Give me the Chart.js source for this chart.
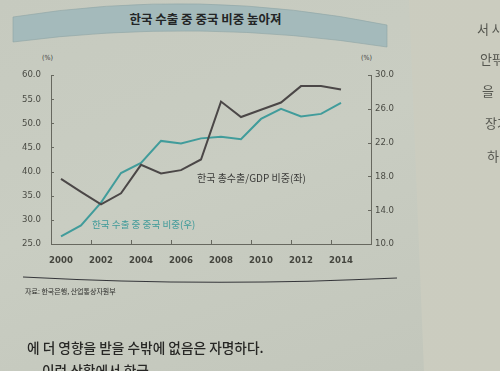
<!DOCTYPE html>
<html><head><meta charset="utf-8">
<script src="https://cdn.jsdelivr.net/npm/chart.js@4"></script>
<style>
html,body{margin:0;padding:0;}
body{width:500px;height:371px;overflow:hidden;position:relative;
  background:linear-gradient(160deg,#c6cabf 0%,#c9cdc2 45%,#c2c6bb 100%);
  font-family:"Noto Sans CJK KR","Noto Sans",sans-serif;}
#gutter{position:absolute;left:0;top:0;width:500px;height:371px;
  clip-path:polygon(409px 0,500px 0,500px 371px,424px 371px);
  background:linear-gradient(to right,#d9d7b2 0px,#d6d4b4 6px,#cfd0bf 16px,#cbcdc0 40px,#cbccbf 100%);}
svg.bg{position:absolute;left:0;top:0;}
.t{position:absolute;white-space:nowrap;}
#title{left:128px;top:9px;width:155px;text-align:center;font-size:12.5px;font-weight:bold;color:#232526;}
.unit{font-size:7px;color:#3c3c3a;top:54px;font-family:"DejaVu Sans Condensed",sans-serif;}
#lblB{left:197px;top:170px;font-size:10px;color:#3a3a38;}
#lblT{left:92px;top:217px;font-size:9.6px;color:#3f9a99;}
#src{left:25px;top:286px;font-size:7px;color:#2e2e2c;}
.body{font-size:13.7px;color:#272725;font-weight:500;}
.rp{font-size:13px;color:#55564f;}
#cw{position:absolute;left:0;top:0;width:500px;height:371px;}
</style></head>
<body>
<div id="gutter"></div>
<svg class="bg" width="500" height="371">
  <path d="M13,17 Q200,-13 387,25 L387,47 Q200,17.5 13,42 Z" fill="#a4babb" stroke="#8fa4a5" stroke-width="0.6"/>
  <path d="M23,277 Q210,287 397,278" fill="none" stroke="#35363a" stroke-width="1.2"/>
</svg>
<div class="t" id="title">한국 수출 중 중국 비중 높아져</div>
<div class="t unit" style="left:42px;">(%)</div>
<div class="t unit" style="left:361px;">(%)</div>
<div id="cw"><canvas id="c" width="500" height="371"></canvas></div>
<div class="t" id="lblB">한국 총수출/GDP 비중(좌)</div>
<div class="t" id="lblT">한국 수출 중 중국 비중(우)</div>
<div class="t" id="src">자료: 한국은행, 산업통상자원부</div>
<div class="t body" style="left:27px;top:337px;">에 더 영향을 받을 수밖에 없음은 자명하다.</div>
<div class="t body" style="left:42px;top:360px;">이런 상황에서 한국</div>
<div class="t rp" style="left:477px;top:19px;">서 사</div>
<div class="t rp" style="left:480px;top:49px;">안팎</div>
<div class="t rp" style="left:482px;top:81px;">을</div>
<div class="t rp" style="left:485px;top:113px;">장기</div>
<div class="t rp" style="left:487px;top:146px;">하</div>
<script>
// ---- data ----
const years = ['2000','2001','2002','2003','2004','2005','2006','2007','2008','2009','2010','2011','2012','2013','2014','2015'];
const exportToGdp = [38.5, 35.8, 33.2, 35.5, 41.4, 39.6, 40.3, 42.5, 54.5, 51.3, 52.8, 54.3, 57.7, 57.7, 57.0];
const chinaShare  = [10.9, 12.2, 14.9, 18.4, 19.6, 22.2, 21.9, 22.5, 22.7, 22.4, 24.8, 26.0, 25.1, 25.4, 26.7];
const leftTicks  = [25, 30, 35, 40, 45, 50, 55, 60];
const rightTicks = [10, 14, 18, 22, 26, 30];
const shownYears = ['2000','2002','2004','2006','2008','2010','2012','2014'];

const tickFont = {family:"'Liberation Sans Narrow','DejaVu Sans Condensed',sans-serif", size:9.5};
const axisColor = '#67685f';

const innerTicks = {
  id:'innerTicks',
  afterDraw(chart){
    const {ctx, chartArea:a, scales} = chart;
    ctx.save(); ctx.strokeStyle = axisColor; ctx.lineWidth = 1;
    ctx.beginPath();
    scales.y.ticks.forEach(t=>{const y=Math.round(scales.y.getPixelForValue(t.value))+0.5; ctx.moveTo(a.left,y); ctx.lineTo(a.left+3,y);});
    scales.y1.ticks.forEach(t=>{const y=Math.round(scales.y1.getPixelForValue(t.value))+0.5; ctx.moveTo(a.right,y); ctx.lineTo(a.right-3,y);});
    const x = scales.x; const w = x.getPixelForValue(1) - x.getPixelForValue(0);
    for (let i = 2; i < years.length; i += 2) {
      const px = Math.round(x.getPixelForValue(i) - w/2) + 0.5;
      ctx.moveTo(px, a.bottom); ctx.lineTo(px, a.bottom - 4);
    }
    ctx.stroke(); ctx.restore();
  }
};

new Chart(document.getElementById('c'), {
  type:'line',
  data:{
    labels: years,
    datasets:[
      {label:'한국 총수출/GDP 비중(좌)', data: exportToGdp, yAxisID:'y', borderColor:'#4b4747', borderWidth:2, pointRadius:0, tension:0, fill:false},
      {label:'한국 수출 중 중국 비중(우)', data: chinaShare, yAxisID:'y1', borderColor:'#419c9b', borderWidth:2, pointRadius:0, tension:0, fill:false}
    ]
  },
  options:{
    responsive:false, animation:false, devicePixelRatio:1,
    layout:{padding:{top:75, left:0, right:89, bottom:97}},
    plugins:{legend:{display:false}, tooltip:{enabled:false}},
    scales:{
      x:{
        type:'category', offset:true,
        grid:{display:false, drawTicks:false, offset:true},
        border:{display:true, color:axisColor, width:1},
        ticks:{autoSkip:false, maxRotation:0, padding:11, color:'#45463f', font:{...tickFont, weight:'bold'},
          callback:(v,i)=> shownYears.includes(years[i]) ? years[i] : ''},
        afterFit:s=>{s.height = 30;}
      },
      y:{
        position:'left', min:leftTicks[0], max:leftTicks[leftTicks.length-1],
        grid:{display:false, drawTicks:false},
        border:{display:true, color:axisColor, width:1},
        afterBuildTicks:s=>{s.ticks = leftTicks.map(v=>({value:v}));},
        ticks:{padding:10, color:'#4a4b44', font:tickFont, callback:v=>Number(v).toFixed(1)},
        afterFit:s=>{s.width = 51;}
      },
      y1:{
        position:'right', min:rightTicks[0], max:rightTicks[rightTicks.length-1],
        grid:{display:false, drawTicks:false},
        border:{display:true, color:axisColor, width:1},
        afterBuildTicks:s=>{s.ticks = rightTicks.map(v=>({value:v}));},
        ticks:{padding:4, color:'#4a4b44', font:tickFont, callback:v=>Number(v).toFixed(1)},
        afterFit:s=>{s.width = 40;}
      }
    }
  },
  plugins:[innerTicks]
});
</script>
</body></html>
